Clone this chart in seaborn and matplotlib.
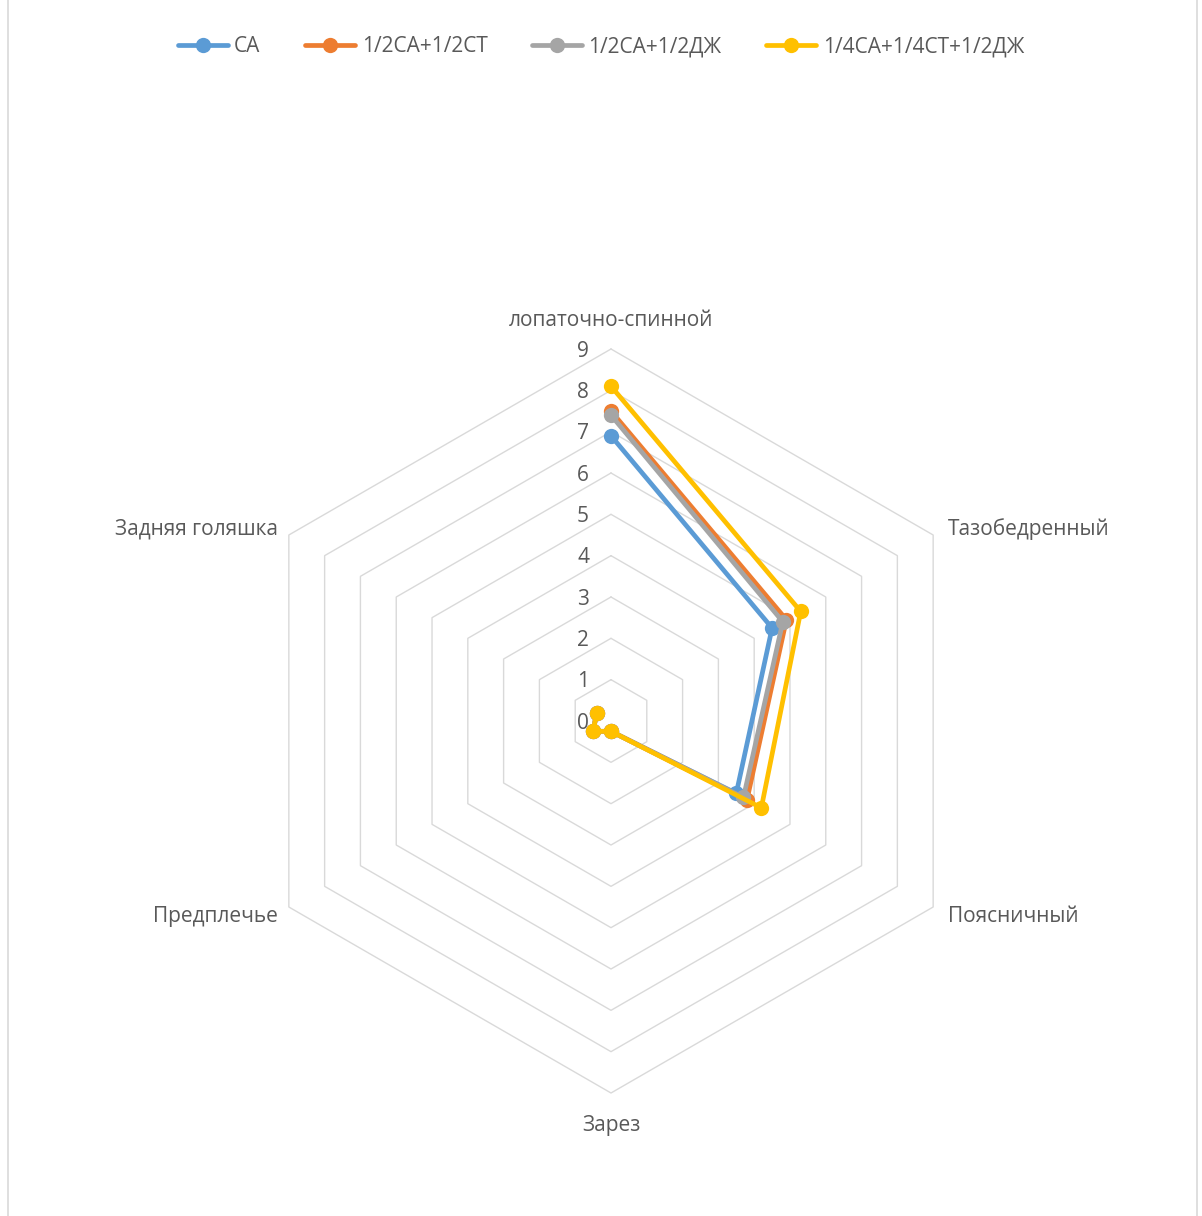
import numpy as np
import pandas as pd
import matplotlib
matplotlib.use("Agg")
import matplotlib.pyplot as plt
import matplotlib.transforms as mtrans
from matplotlib.lines import Line2D
import seaborn as sns

categories = ["лопаточно-спинной", "Тазобедренный", "Поясничный", "Зарез", "Предплечье", "Задняя голяшка"]
series_names = ["СА", "1/2СА+1/2СТ", "1/2СА+1/2ДЖ", "1/4СА+1/4СТ+1/2ДЖ"]
ca = [6.9, 4.5, 3.5, 0.25, 0.5, 0.4]
ca_ct = [7.5, 4.9, 3.8, 0.25, 0.5, 0.4]
ca_dj = [7.4, 4.8, 3.7, 0.25, 0.5, 0.4]
ca_ct_dj = [8.1, 5.3, 4.2, 0.25, 0.5, 0.4]
radial_ticks = list(range(0, 10))

colors = ["#5B9BD5", "#ED7D31", "#A5A5A5", "#FFC000"]
text_color = "#595959"
grid_color = "#D9D9D9"

sns.set_style("white")
plt.rcParams['font.family'] = ['Open Sans', 'DejaVu Sans']

W, H = 1202, 1216
fig = plt.figure(figsize=(W / 100, H / 100), dpi=100)
cx, cy, R = 611, 721, 372
ax = fig.add_axes([(cx - R) / W, (H - cy - R) / H, 2 * R / W, 2 * R / H], projection="polar")
ax.set_theta_offset(np.pi / 2)
ax.set_theta_direction(-1)
ax.set_ylim(0, 9)
ax.grid(False)
ax.spines["polar"].set_visible(False)
ax.set_xticks([])
ax.set_yticks([])
ax.patch.set_alpha(0)

n = len(categories)
angles = np.linspace(0, 2 * np.pi, n, endpoint=False)
closed_angles = np.append(angles, angles[0])

# polygonal grid rings
for lvl in radial_ticks[1:]:
    ax.plot(closed_angles, [lvl] * (n + 1), color=grid_color, lw=1.0, zorder=1, clip_on=False)

# data
all_vals = [ca, ca_ct, ca_dj, ca_ct_dj]
rows = []
for name, vals in zip(series_names, all_vals):
    closed = list(vals) + [vals[0]]
    for i, (a, v) in enumerate(zip(closed_angles, closed)):
        rows.append({"series": name, "order": i, "angle": a, "value": v})
df = pd.DataFrame(rows)

LW, MS = 3.4, 11
for name, col in zip(series_names, colors):
    sub = df[df["series"] == name]
    sns.lineplot(data=sub, x="angle", y="value", sort=False, ax=ax, color=col,
                 lw=LW, marker="o", markersize=MS, markeredgewidth=0,
                 zorder=3, clip_on=False, legend=False)
ax.set_xlabel("")
ax.set_ylabel("")
ax.set_ylim(0, 9)

FS = 15
# radial tick labels
for t in radial_ticks:
    tr = mtrans.offset_copy(ax.transData, fig=fig, x=-28, y=-2, units="dots")
    ax.text(0, t, str(t), transform=tr, ha="center", va="center",
            fontsize=FS, color=text_color)

# category labels
offsets = [(0, 29, "center"), (15, 6, "left"), (15, -9, "left"),
           (0, -33, "center"), (-11, -9, "right"), (-11, 6, "right")]
for a, lab, (dx, dy, ha) in zip(angles, categories, offsets):
    tr = mtrans.offset_copy(ax.transData, fig=fig, x=dx, y=dy, units="dots")
    ax.text(a, 9, lab, transform=tr, ha=ha, va="center", fontsize=FS, color=text_color)

# legend
handles = [Line2D([0], [0], color=c, lw=LW, marker="o", markersize=MS, markeredgewidth=0)
           for c in colors]
fig.legend(handles, series_names, loc="center", bbox_to_anchor=(0.5, 1 - 47 / H),
           ncol=4, frameon=False, fontsize=FS, labelcolor=text_color,
           handlelength=2.4, handletextpad=0.3, columnspacing=2.15)

# chart border
fig.add_artist(Line2D([8 / W, 8 / W], [0, 1], color=grid_color, lw=1.2))
fig.add_artist(Line2D([1197 / W, 1197 / W], [0, 1], color=grid_color, lw=1.2))

fig.savefig("out.png", dpi=100, facecolor="white")
